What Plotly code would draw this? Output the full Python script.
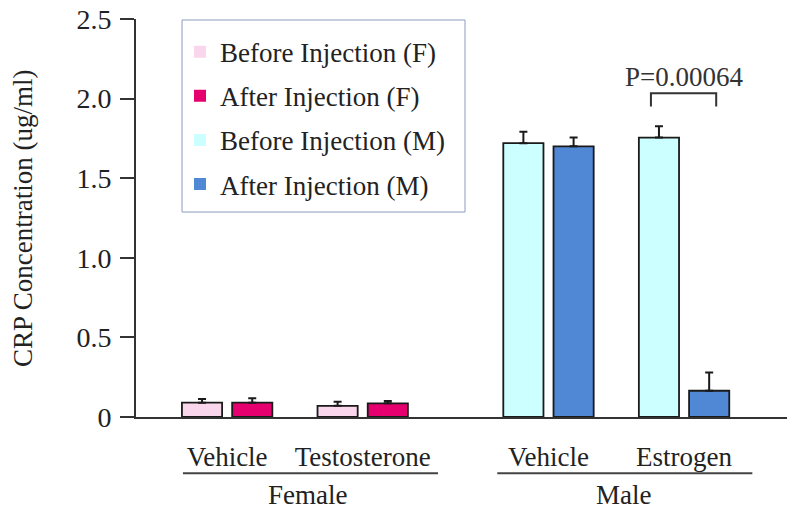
import plotly.graph_objects as go

# bar positions (pair pitch = 1 unit)
before_f_x = [0, 2.7]
after_f_x = [1, 3.7]
before_m_x = [6.4, 9.1]
after_m_x = [7.4, 10.1]

before_f = [0.09, 0.07]
before_f_err = [0.023, 0.026]
after_f = [0.09, 0.086]
after_f_err = [0.027, 0.015]
before_m = [1.72, 1.755]
before_m_err = [0.072, 0.072]
after_m = [1.70, 0.165]
after_m_err = [0.055, 0.115]

treat_pos = [0.5, 3.2, 6.9, 9.6]
treat_labels = ['Vehicle', 'Testosterone', 'Vehicle', 'Estrogen']
sex_labels = ['Female', 'Male']
sex_pos = [2.1, 8.4]
sex_spans = [(-0.38, 4.7), (5.88, 10.96)]

y_ticks = [0, 0.5, 1.0, 1.5, 2.0, 2.5]
y_ticktext = ['0', '0.5', '1.0', '1.5', '2.0', '2.5']

p_text = 'P=0.00064'
bracket = (8.94, 10.24, 2.033, 1.95)

names = ['Before Injection (F)', 'After Injection (F)', 'Before Injection (M)', 'After Injection (M)']
colors = ['#fad6ec', '#e6006f', '#ccffff', '#5088d6']

FONT = 'Liberation Serif'
series = [(before_f_x, before_f, before_f_err), (after_f_x, after_f, after_f_err),
          (before_m_x, before_m, before_m_err), (after_m_x, after_m, after_m_err)]

fig = go.Figure()
for (xs, ys, es), col, nm in zip(series, colors, names):
    fig.add_trace(go.Bar(x=xs, y=ys, width=0.8, name=nm, showlegend=False,
                         marker=dict(color=col, line=dict(color='#1a1a1a', width=1.8)),
                         error_y=dict(type='data', array=es, arrayminus=[0] * len(es), symmetric=False,
                                      color='#1a1a1a', thickness=2, width=4)))
# legend-only entries (no outline on swatches)
for col, nm in zip(colors, names):
    fig.add_trace(go.Bar(x=[None], y=[None], name=nm, legendgroup=nm,
                         marker=dict(color=col, line=dict(width=0))))

# legend frame
fig.add_shape(type='rect', xref='paper', yref='paper', x0=0.0707, x1=0.5054, y0=0.515, y1=0.9975,
              line=dict(color='#8c9cc0', width=1), fillcolor='white', layer='below')

fig.add_annotation(x=(bracket[0] + bracket[1]) / 2, y=2.134, text=p_text, showarrow=False,
                   font=dict(family=FONT, size=27, color='#333'))
fig.add_shape(type='path', path=f'M {bracket[0]},{bracket[3]} L {bracket[0]},{bracket[2]} L {bracket[1]},{bracket[2]} L {bracket[1]},{bracket[3]}',
              line=dict(color='#333', width=2))

for (a, b), lab, pos in zip(sex_spans, sex_labels, sex_pos):
    fig.add_shape(type='line', xref='x', yref='paper', x0=a, x1=b, y0=-0.1415, y1=-0.1415,
                  line=dict(color='#444', width=2))
    fig.add_annotation(x=pos, xref='x', y=-0.196, yref='paper', yanchor='middle', text=lab,
                       showarrow=False, font=dict(family=FONT, size=27, color='#222'))

fig.add_annotation(x=-0.1736, xref='paper', xanchor='center', y=0.5, yref='paper', yanchor='middle',
                   text='CRP Concentration (ug/ml)', textangle=-90, showarrow=False,
                   font=dict(family=FONT, size=27, color='#222'))

fig.update_layout(
    width=800, height=516, margin=dict(l=136, r=13, t=19, b=99),
    plot_bgcolor='white', paper_bgcolor='white', barmode='overlay',
    font=dict(family=FONT, size=27, color='#222'),
    legend=dict(x=0.0676, y=0.9782, xanchor='left', yanchor='top', borderwidth=0,
                bgcolor='rgba(0,0,0,0)', tracegroupgap=6,
                font=dict(family=FONT, size=27, color='#222')),
    xaxis=dict(range=[-1.315, 11.65], showline=True, linecolor='#333', linewidth=2, showgrid=False,
               zeroline=False, tickvals=treat_pos, ticktext=treat_labels, ticks='', ticklabelstandoff=15,
               automargin=False),
    yaxis=dict(range=[0, 2.5], showline=True, linecolor='#333', linewidth=2, showgrid=False, zeroline=False,
               tickvals=y_ticks, ticktext=y_ticktext, ticks='outside', ticklen=14, tickwidth=2,
               tickcolor='#333', ticklabelstandoff=3, tickfont=dict(size=28), automargin=False),
)

fig.write_html('out.html', config={'displayModeBar': False},
               post_script="document.body.style.margin='0';")
